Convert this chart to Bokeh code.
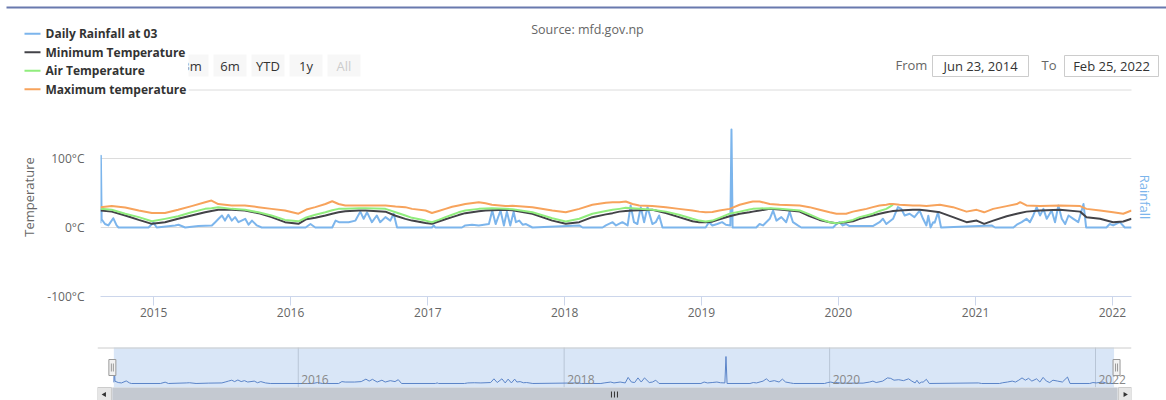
import math
import pandas as pd
from bokeh.plotting import figure
from bokeh.models import (Range1d, LinearAxis, FixedTicker, DatetimeTickFormatter,
                          PrintfTickFormatter, ColumnDataSource)
from bokeh.layouts import column
from bokeh.embed import file_html
from bokeh.resources import INLINE
from bokeh.core.properties import value

NAN = float("nan")

# ---------------- data ----------------
source_text = "Source: mfd.gov.np"
series_names = ["Daily Rainfall at 03", "Minimum Temperature", "Air Temperature", "Maximum temperature"]
series_colors = ["#7cb5ec", "#434348", "#90ed7d", "#f7a35c"]
range_buttons = ["1m", "3m", "6m", "YTD", "1y", "All"]
date_from = "Jun 23, 2014"
date_to = "Feb 25, 2022"
view_start = "2014-08-12"
view_end = "2022-02-21"
nav_start = "2014-06-28"
nav_end = "2022-04-10"
year_ticks = [2015, 2016, 2017, 2018, 2019, 2020, 2021, 2022]
nav_years = [2016, 2018, 2020, 2022]
temp_ticks = [-100, 0, 100]

temp_dates = [
    "2014-08-12", "2014-09-11", "2014-10-17", "2014-11-22", "2014-12-27",
    "2015-01-31", "2015-03-07", "2015-04-12", "2015-05-18", "2015-06-04", "2015-06-22",
    "2015-07-28", "2015-09-01", "2015-10-07", "2015-11-11", "2015-12-17",
    "2016-01-22", "2016-02-12", "2016-03-07", "2016-04-03", "2016-04-21", "2016-05-08",
    "2016-05-26", "2016-07-01", "2016-07-19", "2016-09-10", "2016-10-07", "2016-11-02",
    "2016-11-20", "2016-12-26",
    "2017-01-12", "2017-01-30", "2017-02-17", "2017-03-07", "2017-03-24", "2017-04-11",
    "2017-05-17", "2017-06-04", "2017-06-21", "2017-07-27", "2017-08-15", "2017-10-07",
    "2017-11-29",
    "2018-01-04", "2018-02-09", "2018-03-16", "2018-04-21", "2018-05-09", "2018-05-27",
    "2018-06-13", "2018-07-01", "2018-07-19", "2018-08-23", "2018-09-28", "2018-11-02",
    "2018-12-08", "2018-12-26",
    "2019-01-12", "2019-01-30", "2019-02-18", "2019-03-17", "2019-04-13", "2019-05-09",
    "2019-05-18", "2019-06-05", "2019-07-02", "2019-07-28", "2019-09-20", "2019-10-16",
    "2019-11-12", "2019-12-09", "2019-12-27",
    "2020-01-22", "2020-02-09", "2020-02-27", "2020-03-16", "2020-04-02", "2020-04-20",
    "2020-05-08", "2020-05-17", "2020-05-26", "2020-06-12", "2020-07-18", "2020-08-05",
    "2020-08-23", "2020-09-28", "2020-11-02", "2020-12-08",
    "2021-01-04", "2021-01-24", "2021-02-17", "2021-03-25", "2021-04-21", "2021-04-30",
    "2021-05-17", "2021-06-22", "2021-08-14", "2021-10-07", "2021-10-24", "2021-11-29",
    "2022-01-03", "2022-01-30", "2022-02-21",
]
max_temp = [
    29.5, 31, 29, 24.6, 21,
    21, 25.6, 31, 36.7, 39, 34, 32, 32, 29.5, 27, 24.6,
    20, 26, 29.5, 34, 38, 34, 32, 32, 32, 32, 30.5, 29.5, 27, 24.6,
    21, 24, 27, 30, 32, 34, 36.7, 35, 33, 31, 31.5, 29.5, 24.6,
    22, 27, 33, 36, 36.7, 36.7, 37.7, 34, 32, 31, 29.5, 27, 24.6, 23,
    22, 22.5, 24.6, 27, 33, 36.7, 37.7, 37.7, 34, 33, 32, 29.5, 25.6, 22, 20,
    20, 23, 25, 27, 29.5, 32, 33, 34, 34, 33, 32, 32, 31, 33, 29.5, 23,
    25.6, 22, 27, 31, 34, 36.7, 32, 31, 32, 31, 27, 24.6,
    22, 20, 24.6,
]
air_temp = [
    27, 25.6, 20, 15, 9,
    12.5, 16.4, 22, 27, 28, 29.5, 27, 25.6, 22, 17.4, 11,
    9, 14.5, 18.4, 22, 25, 27, 27, 28, 28, 27, 22, 17.4, 14, 10,
    7.7, 11, 15, 18.5, 22, 24.5, 27, 27.5, 28, 27, 26.5, 22, 13.5,
    8.7, 12.6, 20, 24, 25.6, 27, 28.5, 28, 27, 25.6, 23, 18.4, 12.6, 10,
    8.7, 10, 14, 20, 23, 26, 27, 27.5, 28, 27, 24.6, 19, 12.5, 7.7, 6,
    8.7, 11, 15, 17.5, 20, 24, 27, 30, 33, NAN, NAN, NAN, NAN, NAN, NAN, NAN,
    NAN, NAN, NAN, NAN, NAN, NAN, NAN, NAN, NAN, NAN, NAN, NAN,
    NAN, NAN, NAN,
]
min_temp = [
    24.6, 23, 17.4, 11, 5.3,
    7.7, 12.6, 17.4, 22, 24, 25.6, 25.6, 24.6, 20.8, 15, 7.7,
    5.3, 12, 14, 17.4, 20, 22, 23.5, 24.6, 24.6, 23, 17, 12.5, 10, 6.5,
    5.3, 8.7, 12, 15, 18, 20.8, 23.5, 24.6, 25, 25.6, 25, 20, 10,
    5.3, 7.7, 15, 19, 20.8, 23, 24, 24.6, 25, 25.6, 21, 15, 9, 7.7,
    7.7, 8.5, 12, 16.4, 20, 22, 23, 24.5, 27, 26, 23, 16.5, 11, 7.5, 6,
    7.7, 9, 12.5, 15, 17.5, 20, 22, 23, 24, 24.6, 25.6, 25.6, 24.6, 22, 15, 7.7,
    10, 5.3, 10, 16.4, 20, 21, 23, 24.6, 25.6, 23, 15, 12.6,
    7.7, 8.7, 12.6,
]

rain_dates = [
    "2014-08-12", "2014-08-13", "2014-08-15", "2014-08-24", "2014-09-02", "2014-09-15",
    "2014-09-24", "2014-09-29", "2014-12-18", "2014-12-31",
    "2015-01-09", "2015-02-27", "2015-03-08", "2015-03-26", "2015-04-30", "2015-06-05",
    "2015-06-14", "2015-06-23", "2015-07-02", "2015-07-10", "2015-07-19", "2015-07-28",
    "2015-08-06", "2015-08-15", "2015-09-02", "2015-09-11", "2015-09-20", "2015-10-03",
    "2015-10-16",
    "2016-02-10", "2016-02-23", "2016-03-07", "2016-04-21", "2016-04-30", "2016-05-09",
    "2016-06-04", "2016-06-22", "2016-07-05", "2016-07-14", "2016-07-23", "2016-08-05",
    "2016-08-18", "2016-08-27", "2016-09-10", "2016-09-23", "2016-10-02", "2016-10-11",
    "2017-01-12", "2017-01-17", "2017-01-21", "2017-04-02", "2017-04-11", "2017-04-29",
    "2017-05-17", "2017-06-13", "2017-06-22", "2017-07-01", "2017-07-14", "2017-07-23",
    "2017-07-31", "2017-08-09", "2017-08-18", "2017-08-24", "2017-09-02", "2017-09-11",
    "2017-09-20", "2017-10-07",
    "2018-02-09", "2018-02-18", "2018-04-12", "2018-04-21", "2018-05-09", "2018-05-18",
    "2018-06-04", "2018-06-18", "2018-06-26", "2018-07-05", "2018-07-14", "2018-07-23",
    "2018-08-01", "2018-08-10", "2018-08-23", "2018-09-01", "2018-09-10", "2018-09-19",
    "2019-01-12", "2019-01-21", "2019-01-30", "2019-02-12", "2019-02-25", "2019-03-07",
    "2019-03-19", "2019-03-22", "2019-03-25", "2019-05-27", "2019-06-05", "2019-06-14",
    "2019-07-02", "2019-07-11", "2019-07-20", "2019-08-02", "2019-08-15", "2019-08-24",
    "2019-09-02", "2019-09-15", "2019-09-24", "2019-12-18", "2019-12-27",
    "2020-01-04", "2020-01-13", "2020-01-22", "2020-01-31", "2020-04-02", "2020-04-20",
    "2020-04-29", "2020-05-08", "2020-05-26", "2020-06-08", "2020-06-17", "2020-06-26",
    "2020-07-09", "2020-07-22", "2020-08-05", "2020-08-14", "2020-08-23", "2020-08-28",
    "2020-09-03", "2020-09-10", "2020-09-14", "2020-09-23", "2020-10-01",
    "2021-02-13", "2021-02-22", "2021-04-12", "2021-04-21", "2021-05-04", "2021-05-17",
    "2021-05-26", "2021-06-04", "2021-06-13", "2021-06-22", "2021-07-01", "2021-07-10",
    "2021-07-23", "2021-08-01", "2021-08-10", "2021-08-19", "2021-08-28", "2021-09-06",
    "2021-09-19", "2021-10-02", "2021-10-16", "2021-10-23", "2021-12-16", "2021-12-25",
    "2022-01-03", "2022-01-21", "2022-02-03", "2022-02-21",
]
rain_mm = [
    6, 104, 12, 5, 3, 13.5, 3, 0, 0, 7,
    0, 3, 4, 0, 2, 3, 7.7, 12.6, 17.4, 10, 18.4, 10, 15, 7.7, 12.6, 4, 10, 3, 0,
    0, 5, 0, 0, 10, 7.7, 7.7, 10, 23, 12.6, 22, 7.7, 17.4, 7.7, 15, 10, 20, 0,
    0, 3, 0, 0, 3, 4, 3, 5, 24.6, 5, 24.6, 3, 23, 3, 23, 7.7, 10, 4, 5, 0,
    3, 0, 0, 3, 7.7, 3, 7.7, 3, 32, 7.7, 5, 29.5, 7.7, 29.5, 5, 7.7, 17.4, 0,
    0, 7.7, 3, 5, 7.7, 4, 3, 142, 0, 0, 5, 3, 12.6, 24.6, 10, 15, 7.7, 23, 7.7, 3, 0, 0, 5,
    7.7, 3, 5, 2, 2, 7.7, 12.6, 5, 12.6, 29.5, 27, 17.4, 20, 15, 24.6, 12.6, 3, 17, 0, 7.7, 7, 22, 0,
    3, 0, 0, 4, 7.7, 12.6, 7.7, 17.4, 29.5, 17.4, 27, 12.6, 24.6, 7.7, 32, 12.6, 5, 17.4, 12.6, 7.7, 34, 0, 0, 5,
    3, 7.7, 0, 0,
]

# ---------------- helpers / styles ----------------
FONT = "Open Sans"
FV = value(FONT)
GRID = "#dcdcdc"
AXIS = "#ccd6eb"
W = 1166


def ms(d):
    return pd.Timestamp(d).value / 1e6


t_src = ColumnDataSource(dict(date=pd.to_datetime(temp_dates), tmax=max_temp, tair=air_temp, tmin=min_temp))
r_src = ColumnDataSource(dict(date=pd.to_datetime(rain_dates), rain=rain_mm))

# ---------------- header (legend, range selector, inputs) ----------------
hd = figure(width=W, height=97, x_range=Range1d(0, W), y_range=Range1d(97, 0),
            x_axis_type=None, y_axis_type=None, output_backend="svg",
            toolbar_location=None, title=None, min_border=0, frame_align=False)
hd.outline_line_color = None

hd.segment(x0=[6], y0=[7], x1=[W], y1=[7], line_color="#4f61a0", line_width=2, line_alpha=0.85)
hd.text(x=[587], y=[29], text=[source_text], text_align="center", text_baseline="middle",
        text_font=FV, text_font_size="12.5px", text_color="#666666")

nb = len(range_buttons)
bl = [137 + 38 * i for i in range(nb)]
hd.quad(left=bl, right=[b + 33 for b in bl], top=[54] * nb, bottom=[76] * nb,
        fill_color="#f7f7f7", line_color=None)
hd.text(x=[b + 16.5 for b in bl], y=[65.5] * nb, text=range_buttons,
        text_color=["#cccccc" if b == "All" else "#333333" for b in range_buttons],
        text_align="center", text_baseline="middle", text_font=FV, text_font_size="13px")

# gridline at 200 (top of plot area), partially hidden by the legend
hd.segment(x0=[188], y0=[89.5], x1=[1131], y1=[89.5], line_color=GRID, line_width=1)

# legend box
hd.quad(left=[0], right=[188], top=[18], bottom=[97], fill_color="white", line_color=None)
ny = [33.3 + 18.5 * i for i in range(len(series_names))]
hd.segment(x0=[24] * 4, x1=[40] * 4, y0=ny, y1=ny, line_color=series_colors, line_width=2)
hd.text(x=[45] * 4, y=ny, text=series_names, text_align="left", text_baseline="middle",
        text_font=FV, text_font_size="12px", text_font_style="bold", text_color="#333333")

# From / To inputs
hd.text(x=[895, 1041], y=[64.5, 64.5], text=["From", "To"], text_align="left", text_baseline="middle",
        text_font=FV, text_font_size="13px", text_color="#666666")
hd.quad(left=[932, 1064], right=[1028, 1158], top=[55, 55], bottom=[76, 76],
        fill_color="white", line_color="#cccccc")
hd.text(x=[980, 1111], y=[65, 65], text=[date_from, date_to], text_align="center", text_baseline="middle",
        text_font=FV, text_font_size="13px", text_color="#333333")

# ---------------- main chart ----------------
p = figure(width=W, height=243, x_axis_type="datetime",
           x_range=Range1d(ms(view_start), ms(view_end)), y_range=Range1d(-100, 188.4),
           output_backend="svg", toolbar_location=None, title=None, frame_align=False,
           min_border_left=100, min_border_right=35, min_border_top=0, min_border_bottom=44)
p.outline_line_color = None
p.extra_y_ranges = {"rain": Range1d(-100, 188.4)}

xa = p.xaxis[0]
xa.ticker = FixedTicker(ticks=[ms(f"{y}-01-01") for y in year_ticks])
xa.formatter = DatetimeTickFormatter(years="%Y", months="%Y", days="%Y", hours="%Y")
xa.axis_line_color = AXIS
xa.major_tick_line_color = AXIS
xa.major_tick_in = 0
xa.major_tick_out = 9
xa.minor_tick_line_color = None
xa.major_label_standoff = 2
xa.major_label_text_font = FONT
xa.major_label_text_font_size = "12px"
xa.major_label_text_color = "#666666"

ya = p.yaxis[0]
ya.ticker = FixedTicker(ticks=temp_ticks)
ya.formatter = PrintfTickFormatter(format="%d°C")
ya.axis_label = "Temperature"
ya.axis_line_color = None
ya.major_tick_line_color = None
ya.minor_tick_line_color = None
ya.major_tick_out = 0
ya.major_tick_in = 0
ya.major_label_standoff = 16
ya.major_label_text_font = FONT
ya.major_label_text_font_size = "12px"
ya.major_label_text_color = "#666666"
ya.major_label_text_baseline = "alphabetic"
ya.axis_label_standoff = 6
ya.axis_label_text_font = FONT
ya.axis_label_text_font_size = "13px"
ya.axis_label_text_font_style = "normal"
ya.axis_label_text_color = "#666666"

ra = LinearAxis(y_range_name="rain", axis_label="Rainfall", ticker=FixedTicker(ticks=[]))
ra.axis_line_color = None
ra.major_tick_line_color = None
ra.minor_tick_line_color = None
ra.major_tick_out = 0
ra.major_label_text_color = None
ra.axis_label_standoff = 4
ra.axis_label_text_font = FONT
ra.axis_label_text_font_size = "13px"
ra.axis_label_text_font_style = "normal"
ra.axis_label_text_color = "#7cb5ec"
p.add_layout(ra, "right")

p.xgrid.visible = False
p.ygrid[0].ticker = FixedTicker(ticks=[0, 100])
p.ygrid.grid_line_color = GRID

p.line("date", "rain", source=r_src, y_range_name="rain", line_color=series_colors[0], line_width=2,
       line_join="round")
p.line("date", "tmin", source=t_src, line_color=series_colors[1], line_width=2, line_join="round")
p.line("date", "tair", source=t_src, line_color=series_colors[2], line_width=2, line_join="round")
p.line("date", "tmax", source=t_src, line_color=series_colors[3], line_width=2, line_join="round")

# ---------------- navigator ----------------
nav = figure(width=W, height=60, x_range=Range1d(ms(nav_start), ms(nav_end)), y_range=Range1d(-89.5, 226.3),
             x_axis_type=None, y_axis_type=None, output_backend="svg", toolbar_location=None, title=None,
             frame_align=False,
             min_border_left=97, min_border_right=35, min_border_top=0, min_border_bottom=0)
nav.outline_line_color = None
NX0, NX1 = 97, 1131
nav.extra_x_ranges = {"px": Range1d(NX0, NX1)}
nav.extra_y_ranges = {"px": Range1d(400, 340)}


def nav_px(d):
    return NX0 + (ms(d) - ms(nav_start)) / (ms(nav_end) - ms(nav_start)) * (NX1 - NX0)


ny_ms = [ms(f"{y}-01-01") for y in nav_years]
nn = len(nav_years)
nav.segment(x0=ny_ms, x1=ny_ms, y0=[347] * nn, y1=[387] * nn, y_range_name="px",
            line_color="#d6d6d6", line_width=1)
nav.quad(left=[ms(view_start)], right=[ms(view_end)], top=[347], bottom=[387], y_range_name="px",
         fill_color="#3f84d9", fill_alpha=0.2, line_color=None)
nav.line("date", "rain", source=r_src, line_color="#5b84c8", line_width=1)
nav.text(x=ny_ms, y=[379] * nn, text=[str(y) for y in nav_years], x_offset=3, y_range_name="px",
         text_align="left", text_baseline="middle", text_font=FV, text_font_size="12px",
         text_color="#888888")
nav.segment(x0=[NX0], x1=[NX1], y0=[347.5], y1=[347.5], x_range_name="px", y_range_name="px",
            line_color="#cccccc", line_width=1)

hl, hr = nav_px(view_start) - 1.5, nav_px(view_end) + 2.5
nav.quad(left=[hl - 3.5, hr - 3.5], right=[hl + 3.5, hr + 3.5], top=[359, 359], bottom=[375, 375],
         x_range_name="px", y_range_name="px", fill_color="#f2f2f2", line_color="#999999")
nav.segment(x0=[hl - 1, hl + 1, hr - 1, hr + 1], x1=[hl - 1, hl + 1, hr - 1, hr + 1],
            y0=[363] * 4, y1=[371] * 4, x_range_name="px", y_range_name="px",
            line_color="#999999", line_width=1)

# scrollbar (bottom strip)
nav.quad(left=[NX0], right=[NX1], top=[387], bottom=[400], x_range_name="px", y_range_name="px",
         fill_color="#f2f2f2", line_color=None)
nav.quad(left=[hl], right=[hr + 1], top=[387], bottom=[400], x_range_name="px", y_range_name="px",
         fill_color="#c4c9d1", line_color=None)
nav.quad(left=[NX0, NX1 - 13], right=[NX0 + 14, NX1], top=[387, 387], bottom=[400, 400],
         x_range_name="px", y_range_name="px", fill_color="#e6e6e6", line_color="#cccccc")
nav.scatter(x=[NX0 + 7, NX1 - 6.5], y=[394, 394], marker="triangle", size=5,
            angle=[math.pi / 2, -math.pi / 2], x_range_name="px", y_range_name="px",
            fill_color="#333333", line_color=None)
gx = (hl + hr) / 2
nav.segment(x0=[gx - 3, gx, gx + 3], x1=[gx - 3, gx, gx + 3], y0=[391] * 3, y1=[397] * 3,
            x_range_name="px", y_range_name="px", line_color="#333333", line_width=1)

layout = column(hd, p, nav, spacing=0)
open("out.html", "w").write(file_html(layout, INLINE))
